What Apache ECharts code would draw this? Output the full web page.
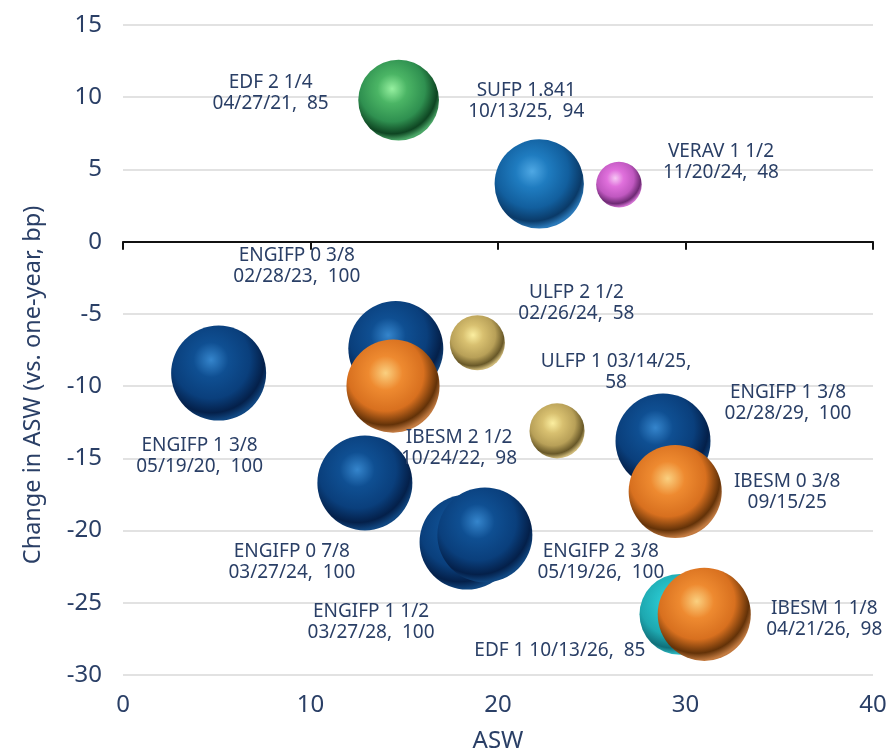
<!DOCTYPE html>
<html>
<head>
<meta charset="utf-8">
<style>html,body{margin:0;padding:0;background:#fff}#c{width:890px;height:755px}</style>
<script src="https://cdn.jsdelivr.net/npm/echarts@6/dist/echarts.min.js"></script>
</head>
<body>
<div id="c"></div>
<script>
const labels = ["EDF 2 1/4\n04/27/21,  85","SUFP 1.841\n10/13/25,  94","VERAV 1 1/2\n11/20/24,  48","ENGIFP 0 3/8\n02/28/23,  100","IBESM 2 1/2\n10/24/22,  98","ULFP 2 1/2\n02/26/24,  58","ULFP 1 03/14/25,\n58","ENGIFP 1 3/8\n05/19/20,  100","ENGIFP 1 3/8\n02/28/29,  100","IBESM 0 3/8\n09/15/25","ENGIFP 0 7/8\n03/27/24,  100","ENGIFP 1 1/2\n03/27/28,  100","ENGIFP 2 3/8\n05/19/26,  100","EDF 1 10/13/26,  85","IBESM 1 1/8\n04/21/26,  98"];
const asw =      [14.7, 22.2, 26.45, 14.55, 14.4, 18.9, 23.15, 5.1, 28.8, 29.45, 12.9, 18.35, 19.3, 29.7, 31];
const change =   [9.8, 4.0, 3.95, -7.4, -10, -7, -13.1, -9.1, -13.8, -17.3, -16.7, -20.8, -20.3, -25.8, -25.8];
const amount =   [85, 94, 48, 100, 98, 58, 58, 100, 100, 98, 100, 100, 100, 85, 98];
const palette =  ["green","blue","pink","navy","orange","gold","gold","navy","navy","orange","navy","navy","navy","teal","orange"];
const labelDx =  [-128, -13, 102, -99, 66, 99, 59, -19, 125, 112, -73, -96, 116, -120, 120];
const labelDy =  [-7, -83, -23, -82, 62, -40, -59, 83, -38, 1, 79, 80, 27, 36, 5];
const xTicks = {min:0, max:40, interval:10};
const yTicks = {min:-30, max:15, interval:5};
const inkColor = "#2a3f66";
const fontName = "Noto Sans";
const ramps = {
  green:  ["#96f0a0","#4bb565","#2f9050","#0e4522","#4aa566"],
  blue:   ["#4fa8e4","#1f7cc0","#125f9e","#0a3a68","#2a78b8"],
  pink:   ["#f6c8f4","#e070dc","#c058c0","#6e2a74","#d070d0"],
  navy:   ["#3585cc","#0f4f92","#0a3f7c","#04204a","#104680"],
  orange: ["#fad080","#ee8a30","#d8701f","#633208","#c27a40"],
  gold:   ["#fbeea0","#d8c070","#b8a058","#685828","#cdb878"],
  teal:   ["#7cf0f0","#28c4cc","#1ea8b0","#10707a","#30c0c8"]
};
function sphere(k){
  const r = ramps[k];
  return {type:"radial", x:0.42, y:0.36, r:0.68, colorStops:[
    {offset:0, color:r[0]},{offset:0.27, color:r[1]},{offset:0.6, color:r[2]},
    {offset:0.82, color:r[3]},{offset:0.94, color:r[4]},{offset:1, color:r[4]}]};
}
const points = asw.map((x,i)=>({
  value:[x, change[i], amount[i]],
  itemStyle:{color:sphere(palette[i]), opacity:1},
  label:{formatter:labels[i]}
}));
const chart = echarts.init(document.getElementById("c"), null, {renderer:"canvas"});
chart.setOption({
  animation:false,
  backgroundColor:"#fff",
  textStyle:{fontFamily:fontName},
  grid:{left:123, right:17, top:25, bottom:80, outerBoundsMode:"none"},
  xAxis:[
    {type:"value", ...xTicks, position:"bottom", name:"ASW", nameLocation:"middle", nameGap:54,
     nameTextStyle:{color:inkColor, fontSize:24, fontFamily:fontName},
     axisLine:{show:false, onZero:false}, axisTick:{show:false}, splitLine:{show:false},
     axisLabel:{color:inkColor, fontSize:24, margin:18, fontFamily:fontName, showMinLabel:true, showMaxLabel:true}},
    {type:"value", ...xTicks, position:"bottom",
     axisLine:{show:true, onZero:true, lineStyle:{color:"#111", width:2}},
     axisTick:{show:true, length:8, inside:false, lineStyle:{color:"#111", width:2}},
     axisLabel:{show:false}, splitLine:{show:false}}
  ],
  yAxis:{type:"value", ...yTicks, name:"Change in ASW (vs. one-year, bp)", nameLocation:"middle", nameGap:78,
     nameTextStyle:{color:inkColor, fontSize:23.5, fontFamily:fontName, padding:[0,70,0,0]},
     axisLine:{show:false}, axisTick:{show:false},
     axisLabel:{color:inkColor, fontSize:24, margin:21, fontFamily:fontName},
     splitLine:{show:true, lineStyle:{color:"#d9d9d9", width:1.5}}},
  series:[{
    type:"scatter", xAxisIndex:0, yAxisIndex:0, clip:false, silent:true,
    symbol:"circle", symbolSize:v=>v[2]*0.95,
    label:{show:true, position:"inside", color:inkColor, fontSize:19, lineHeight:21, fontFamily:fontName, align:"center", verticalAlign:"middle"},
    labelLayout:p=>({dx:labelDx[p.dataIndex], dy:labelDy[p.dataIndex], hideOverlap:false}),
    data:points
  }]
});
</script>
</body>
</html>
